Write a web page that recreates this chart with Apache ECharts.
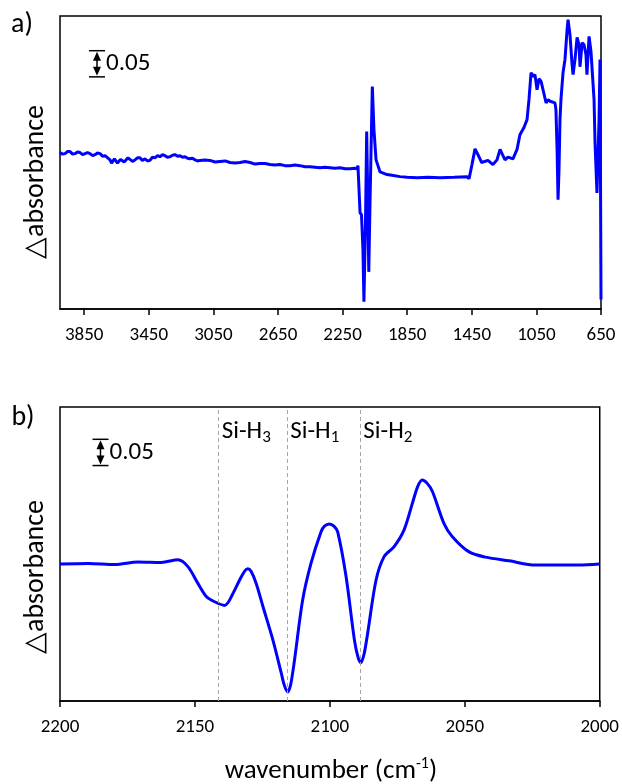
<!DOCTYPE html>
<html>
<head>
<meta charset="utf-8">
<script src="https://cdn.jsdelivr.net/npm/echarts@6.0.0/dist/echarts.min.js"></script>
<style>
html, body { margin: 0; padding: 0; background: #fff; }
#main { width: 622px; height: 784px; }
</style>
</head>
<body>
<div id="main"></div>
<script>
var FONT = "Carlito, 'Open Sans', sans-serif";

// a) full spectrum, [wavenumber, delta absorbance]
var fullSpectrum = [
    [4000, 0.004], [3985, 0.001], [3969, 0.002], [3954, 0.006], [3938, 0.006], [3922, 0.001], [3907, 0.002],
    [3891, 0.005], [3876, 0.004], [3860, 0.000], [3845, 0.002], [3830, 0.004], [3814, 0.002], [3798, -0.002],
    [3783, 0.000], [3768, 0.003], [3752, 0.002], [3737, -0.003], [3721, -0.002], [3705, -0.006], [3690, -0.010],
    [3681, -0.016], [3672, -0.013], [3663, -0.008], [3653, -0.006], [3644, -0.016], [3635, -0.015], [3625, -0.009],
    [3616, -0.008], [3603, -0.014], [3591, -0.011], [3579, -0.006], [3567, -0.008], [3551, -0.013], [3536, -0.010],
    [3520, -0.006], [3505, -0.006], [3490, -0.011], [3474, -0.008], [3458, -0.012], [3443, -0.011], [3428, -0.005],
    [3412, -0.006], [3396, -0.002], [3381, -0.004], [3365, 0.000], [3350, -0.002], [3335, -0.005], [3319, -0.004],
    [3303, -0.001], [3288, 0.000], [3272, -0.003], [3257, -0.002], [3241, -0.005], [3226, -0.004], [3210, -0.007],
    [3195, -0.008], [3180, -0.007], [3164, -0.010], [3148, -0.012], [3133, -0.011], [3102, -0.010], [3071, -0.011],
    [3040, -0.014], [3009, -0.013], [2978, -0.012], [2947, -0.015], [2916, -0.016], [2885, -0.015], [2854, -0.013],
    [2823, -0.015], [2792, -0.018], [2762, -0.017], [2731, -0.017], [2700, -0.019], [2669, -0.020], [2638, -0.019],
    [2607, -0.021], [2576, -0.021], [2545, -0.020], [2514, -0.021], [2483, -0.023], [2452, -0.023], [2421, -0.024],
    [2390, -0.025], [2359, -0.024], [2328, -0.025], [2297, -0.026], [2266, -0.025], [2235, -0.027], [2204, -0.027],
    [2175, -0.026], [2161, -0.027], [2155, -0.021], [2142, -0.111], [2133, -0.115], [2124, -0.182], [2118, -0.281],
    [2108, -0.124], [2101, 0.044], [2095, -0.067], [2088, -0.224], [2080, -0.086], [2066, 0.130], [2056, 0.048],
    [2043, -0.010], [2018, -0.033], [1975, -0.038], [1935, -0.040], [1895, -0.042], [1850, -0.043], [1789, -0.044],
    [1720, -0.043], [1647, -0.044], [1560, -0.043], [1480, -0.042], [1467, -0.046], [1449, -0.019], [1430, 0.011],
    [1412, 0.000], [1389, -0.015], [1370, -0.013], [1350, -0.011], [1319, -0.019], [1294, -0.010], [1275, 0.010],
    [1260, 0.000], [1244, -0.010], [1228, -0.005], [1213, -0.006], [1195, -0.008], [1170, 0.010], [1152, 0.038],
    [1127, 0.052], [1108, 0.067], [1096, 0.105], [1083, 0.157], [1071, 0.149], [1059, 0.153], [1046, 0.124],
    [1034, 0.145], [1021, 0.140], [1009, 0.124], [990, 0.099], [978, 0.105], [965, 0.102], [953, 0.105],
    [935, 0.099], [929, 0.086], [922, 0.010], [916, -0.086], [910, -0.029], [904, 0.067], [898, 0.105],
    [885, 0.157], [873, 0.182], [860, 0.239], [854, 0.258], [842, 0.229], [829, 0.172], [823, 0.153],
    [811, 0.182], [798, 0.224], [786, 0.210], [780, 0.168], [767, 0.214], [755, 0.210], [743, 0.191],
    [737, 0.153], [724, 0.226], [712, 0.197], [700, 0.197], [693, 0.105], [687, 0.023], [675, -0.073],
    [669, -0.073], [662, 0.067], [656, 0.182], [650, -0.277]
];
var fullTicks = [3850, 3450, 3050, 2650, 2250, 1850, 1450, 1050, 650];

// b) Si-H stretching region
var siHSpectrum = [
    [2200, 0.001], [2189.5, 0.002], [2179.7, 0.000], [2171.1, 0.005], [2162.4, 0.004], [2156.3, 0.009],
    [2152.6, -0.004], [2148.9, -0.036], [2145.8, -0.061], [2142.7, -0.071], [2139.0, -0.078], [2135.3, -0.049],
    [2133.5, -0.030], [2131.5, -0.012], [2130.4, -0.008], [2129.2, -0.013], [2127.3, -0.036], [2124.8, -0.080],
    [2121.1, -0.144], [2118.0, -0.207], [2117.0, -0.228], [2115.6, -0.243], [2114.5, -0.228], [2113.1, -0.182],
    [2110.1, -0.068], [2107.0, 0.002], [2103.3, 0.062], [2102.0, 0.073], [2100.2, 0.077], [2098.5, 0.073],
    [2097.1, 0.062], [2094.0, -0.023], [2090.9, -0.144], [2089.5, -0.178], [2088.5, -0.187], [2087.3, -0.170],
    [2086.0, -0.131], [2082.9, -0.030], [2079.9, 0.015], [2076.2, 0.034], [2072.5, 0.066], [2069.4, 0.117],
    [2067.5, 0.148], [2065.8, 0.161], [2064.0, 0.155], [2062.0, 0.139], [2057.7, 0.078], [2054.6, 0.053],
    [2048.4, 0.024], [2042.3, 0.014], [2033.6, 0.007], [2023.8, -0.001], [2015.2, -0.001], [2007.8, -0.001],
    [2000, 0.001]
];
var bandSubscripts = ['3', '1', '2'];
var bandPositions = [2141.2, 2115.8, 2088.7];
var scaleBarValue = 0.05;

function axisX(grid, min, max) {
    return {
        gridIndex: grid,
        type: 'value',
        min: min,
        max: max,
        inverse: true,
        axisLine: { show: true, onZero: false, lineStyle: { color: '#000', width: 1.5 } },
        axisTick: { show: true, length: 6, lineStyle: { color: '#000', width: 1.5 } },
        axisLabel: {
            color: '#000', fontSize: 19, fontFamily: FONT, margin: 17,
            formatter: function (v) { return String(v); }
        },
        splitLine: { show: false }
    };
}

function axisY(grid, min, max) {
    return {
        gridIndex: grid,
        type: 'value',
        min: min,
        max: max,
        axisLine: { show: false },
        axisTick: { show: false },
        axisLabel: { show: false },
        splitLine: { show: false }
    };
}

var xA = axisX(0, 650, 4000);
xA.axisTick.customValues = fullTicks;
xA.axisLabel.customValues = fullTicks;
var xB = axisX(1, 2000, 2200);
xB.interval = 50;

var options = {
    animation: false,
    backgroundColor: '#fff',
    grid: [
        { left: 60, top: 16, width: 541, height: 293, show: true, borderColor: '#000', borderWidth: 1.5 },
        { left: 60, top: 407, width: 541, height: 294, show: true, borderColor: '#000', borderWidth: 1.5 }
    ],
    xAxis: [xA, xB],
    yAxis: [axisY(0, -0.295, 0.265), axisY(1, -0.26, 0.30)],
    series: [
        {
            type: 'line',
            xAxisIndex: 0,
            yAxisIndex: 0,
            data: fullSpectrum,
            showSymbol: false,
            lineStyle: { color: '#0000ff', width: 3 }
        },
        {
            type: 'line',
            xAxisIndex: 1,
            yAxisIndex: 1,
            data: [],
            z: 1,
            markLine: {
                silent: true,
                symbol: ['none', 'none'],
                label: { show: false },
                lineStyle: { color: '#a6a6a6', type: [4, 3], width: 1 },
                data: bandPositions.map(function (w) { return { xAxis: w }; })
            }
        },
        {
            type: 'line',
            xAxisIndex: 1,
            yAxisIndex: 1,
            data: siHSpectrum,
            showSymbol: false,
            smooth: 0.3,
            z: 3,
            lineStyle: { color: '#0000ff', width: 3 }
        }
    ]
};

var chart = echarts.init(document.getElementById('main'));
chart.setOption(options);

function scaleBar(grid, cx, top) {
    var p0 = chart.convertToPixel({ gridIndex: grid }, [2100, 0]);
    var p1 = chart.convertToPixel({ gridIndex: grid }, [2100, scaleBarValue]);
    var h = p0[1] - p1[1];
    var bot = top + h;
    var st = { stroke: '#000', lineWidth: 1.5 };
    return [
        { type: 'line', shape: { x1: cx - 8, y1: top, x2: cx + 8, y2: top }, style: st },
        { type: 'line', shape: { x1: cx - 8, y1: bot, x2: cx + 8, y2: bot }, style: st },
        { type: 'line', shape: { x1: cx, y1: top + 6, x2: cx, y2: bot - 6 }, style: st },
        { type: 'polygon', shape: { points: [[cx, top + 1], [cx - 4, top + 10], [cx + 4, top + 10]] }, style: { fill: '#000' } },
        { type: 'polygon', shape: { points: [[cx, bot - 1], [cx - 4, bot - 10], [cx + 4, bot - 10]] }, style: { fill: '#000' } },
        { type: 'text', x: cx + 9, y: top + h / 2, style: { text: '0.05', fontSize: 25, fontFamily: FONT, fill: '#000', align: 'left', verticalAlign: 'middle' } }
    ];
}

function plainText(x, y, text, size, rot) {
    return {
        type: 'text', x: x, y: y, rotation: rot || 0,
        style: { text: text, fontSize: size, fontFamily: FONT, fill: '#000', align: 'center', verticalAlign: 'middle' }
    };
}

var graphics = [
    plainText(22, 25, 'a)', 28),
    plainText(23, 418, 'b)', 28),
    plainText(36, 182, '\u25b3absorbance', 28, Math.PI / 2),
    plainText(36, 577, '\u25b3absorbance', 28, Math.PI / 2),
    {
        type: 'text', x: 331, y: 771,
        style: {
            text: '{m|wavenumber (cm}{s|-1}{m|)}',
            fill: '#000', align: 'center', verticalAlign: 'middle',
            rich: {
                m: { fontSize: 27, fontFamily: FONT, lineHeight: 30 },
                s: { fontSize: 16, fontFamily: FONT, lineHeight: 14, verticalAlign: 'top' }
            }
        }
    }
].concat(scaleBar(0, 97, 50.7), scaleBar(1, 100.5, 439.3));

var labelTop = chart.convertToPixel({ gridIndex: 1 }, [2100, 0.30])[1];
bandPositions.forEach(function (w, i) {
    var x = chart.convertToPixel({ gridIndex: 1 }, [w, 0])[0];
    graphics.push({
        type: 'text', x: x + 3, y: labelTop + 25,
        style: {
            text: '{m|Si-H}{s|' + bandSubscripts[i] + '}',
            fill: '#000', align: 'left', verticalAlign: 'middle',
            rich: {
                m: { fontSize: 25, fontFamily: FONT, lineHeight: 28 },
                s: { fontSize: 17, fontFamily: FONT, lineHeight: 14, verticalAlign: 'bottom' }
            }
        }
    });
});

chart.setOption({ graphic: graphics });
</script>
</body>
</html>
